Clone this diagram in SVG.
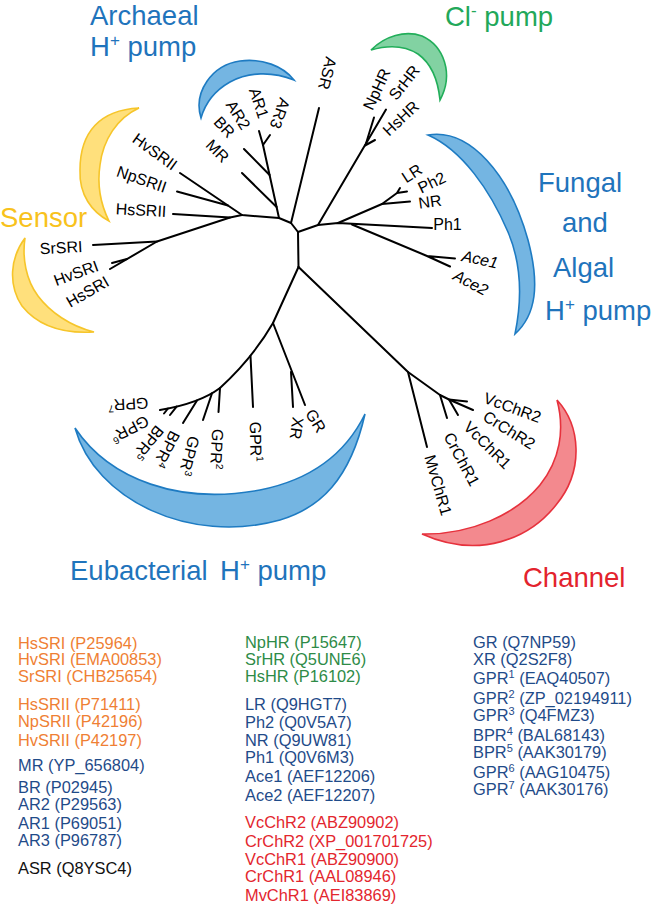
<svg xmlns="http://www.w3.org/2000/svg" width="654" height="909" viewBox="0 0 654 909">
<style>
text{font-family:"Liberation Sans",Arial,Helvetica,sans-serif}
.lb{font-size:16px;fill:#000;text-anchor:middle}
.it{font-style:italic}
.ttl{font-size:27.5px}
.lg{font-size:16.4px}
.blueT{fill:#1F74BC}
.yelT{fill:#F8C21C}
.grnT{fill:#22A85A}
.redT{fill:#E3232D}
.or{fill:#EF7F34}
.gn{fill:#2E8B47}
.db{fill:#1F4B89}
.rd{fill:#E3262E}
.bk{fill:#111}
.cb{fill:#74B5E2;stroke:#1E7BC2;stroke-width:1.6}
.cy{fill:#FFE07C;stroke:#F6C52A;stroke-width:1.6}
.cg{fill:#82D2A2;stroke:#22AE5A;stroke-width:1.6}
.cr{fill:#F3898E;stroke:#E6323D;stroke-width:1.6}
.tree path{fill:none;stroke:#000;stroke-width:2;stroke-linecap:round;stroke-linejoin:round}
</style>

<!-- crescents -->
<g id="crescents">
<path id="cres-archaeal" class="cb" d="M201,118 C193,92 212,65 240,61 C262,58 283,66 294,80 C272,71 248,72 230,82 C214,91 205,104 201,118 Z"/>
<path id="cres-sensor1" class="cy" d="M139,108 C100,110 80,132 80,170 C79,195 92,212 109,221 C101,205 97,185 100,165 C103,140 117,118 139,108 Z"/>
<path id="cres-sensor2" class="cy" d="M25,238 C10,258 8,285 22,306 C38,326 62,334 94,332 C70,326 50,312 38,296 C26,280 22,258 25,238 Z"/>
<path id="cres-cl" class="cg" d="M371,50 C385,36 405,30 422,36 C444,46 454,74 440,100 C438,80 432,64 418,54 C404,45 388,45 371,50 Z"/>
<path id="cres-fungal" class="cb" d="M428,135 C470,128 510,175 528,240 C540,285 536,315 515,334 C522,300 522,265 508,232 C490,190 462,150 428,135 Z"/>
<path id="cres-eubact" class="cb" d="M75,428 C95,500 190,545 280,520 C320,508 350,480 365,414 C345,455 310,480 260,490 C180,505 110,480 75,428 Z"/>
<path id="cres-channel" class="cr" d="M557,400 C580,425 585,470 556,505 C530,538 480,560 422,534 C470,535 515,515 540,485 C560,460 565,430 557,400 Z"/>
</g>

<!-- group titles -->
<g id="titles" class="ttl">
<text class="blueT" x="90" y="25">Archaeal</text>
<text class="blueT" x="90" y="56">H<tspan font-size="17" dy="-10">+</tspan><tspan dy="10"> pump</tspan></text>
<text class="grnT" x="445" y="26">Cl<tspan font-size="17" dy="-10">-</tspan><tspan dy="10"> pump</tspan></text>
<text class="blueT" x="538" y="192">Fungal</text>
<text class="blueT" x="562" y="232">and</text>
<text class="blueT" x="553" y="277">Algal</text>
<text class="blueT" x="545" y="320">H<tspan font-size="17" dy="-10">+</tspan><tspan dy="10"> pump</tspan></text>
<text class="yelT" x="0" y="227">Sensor</text>
<text class="blueT" x="70" y="580">Eubacterial<tspan x="220">H</tspan><tspan font-size="17" dy="-10">+</tspan><tspan dy="10"> pump</tspan></text>
<text class="redT" x="523" y="587">Channel</text>
</g>

<!-- connectors (tree branches) -->
<g id="connectors" class="tree">
<path d="M298,232 L298.5,267"/>
<path d="M298,232 L291,223 L279,218"/>
<path d="M291,223 L319,108"/>
<path d="M279,218 L263,145"/>
<path d="M276.6,207 L242,173"/>
<path d="M269.6,175 L244,149"/>
<path d="M263,145 L259,131 M263,145 L270,135"/>
<path d="M279,218 L242,215 L180,173"/>
<path d="M228,205.5 L177,191.5"/>
<path d="M242,215 L230,217.5 L173,214"/>
<path d="M230,217.5 L157,241.5 L110,269"/>
<path d="M157,241.5 L93,245"/>
<path d="M127,259 L112,263"/>
<path d="M298,232 L318,225 L386,109.5"/>
<path d="M366,143.5 L374,117.5"/>
<path d="M365,145.5 L375,140"/>
<path d="M318,225 L338,223 L432,228"/>
<path d="M338,223 L382,204 L410,201.5"/>
<path d="M382,204 L397,193 L400,188 M397,193 L407,191.5"/>
<path d="M352,224.5 L427,256 L450,266.5 M427,256 L455,258.5"/>
<path d="M298.5,267 L408,372 L427,447"/>
<path d="M408,372 L440,395 L449,399.5 L473,410"/>
<path d="M440,395 L447,418"/>
<path d="M449,399.5 L458,415 M449,399.5 L467,401.5"/>
<path d="M298.5,267 L273,323 L305,405"/>
<path d="M291,372 L293,407"/>
<path d="M273,323 C262,342 244,366 220,388 C208,397 190,405 160,410"/>
<path d="M250.5,356 L253,407"/>
<path d="M220,388 L218.5,412"/>
<path d="M212,393.3 L203,420"/>
<path d="M197,400.5 L183,423"/>
<path d="M176.6,406.6 L170,415 M168,408.5 L164,413.5"/>
</g>

<!-- leaf labels -->
<g id="leaves">
<g id="n-HvSRII"><text class="lb" transform="translate(155,151.7) rotate(36)" y="5.6">HvSRII</text></g>
<g id="n-NpSRII"><text class="lb" transform="translate(141.7,179.2) rotate(19)" y="5.6">NpSRII</text></g>
<g id="n-HsSRII"><text class="lb" transform="translate(141,210) rotate(3)" y="5.6">HsSRII</text></g>
<g id="n-SrSRI"><text class="lb" transform="translate(61,247.5) rotate(-3)" y="5.6">SrSRI</text></g>
<g id="n-HvSRI"><text class="lb" transform="translate(76,273) rotate(-20)" y="5.6">HvSRI</text></g>
<g id="n-HsSRI"><text class="lb" transform="translate(87.5,291.7) rotate(-30)" y="5.6">HsSRI</text></g>
<g id="n-MR"><text class="lb" transform="translate(217.5,150.8) rotate(45)" y="5.6">MR</text></g>
<g id="n-BR"><text class="lb" transform="translate(224.5,127) rotate(47)" y="5.6">BR</text></g>
<g id="n-AR2"><text class="lb" transform="translate(238.3,115) rotate(58)" y="5.6">AR2</text></g>
<g id="n-AR1"><text class="lb" transform="translate(259,103) rotate(72)" y="5.6">AR1</text></g>
<g id="n-AR3"><text class="lb" transform="translate(280,113.3) rotate(110)" y="5.6">AR3</text></g>
<g id="n-ASR"><text class="lb" transform="translate(327.5,73.3) rotate(104)" y="5.6">ASR</text></g>
<g id="n-NpHR"><text class="lb" transform="translate(376.7,89.2) rotate(-65)" y="5.6">NpHR</text></g>
<g id="n-SrHR"><text class="lb" transform="translate(404.2,82.5) rotate(-52)" y="5.6">SrHR</text></g>
<g id="n-HsHR"><text class="lb" transform="translate(400.8,118.3) rotate(-43)" y="5.6">HsHR</text></g>
<g id="n-LR"><text class="lb" transform="translate(411.7,173.3) rotate(-33)" y="5.6">LR</text></g>
<g id="n-Ph2"><text class="lb" transform="translate(431.7,182.5) rotate(-26)" y="5.6">Ph2</text></g>
<g id="n-NR"><text class="lb" transform="translate(430,201.7) rotate(-8)" y="5.6">NR</text></g>
<g id="n-Ph1"><text class="lb" transform="translate(447.5,224.2)" y="5.6">Ph1</text></g>
<g id="n-Ace1"><text class="lb it" transform="translate(480,259.2) rotate(12)" y="5.6">Ace1</text></g>
<g id="n-Ace2"><text class="lb it" transform="translate(470.8,282.5) rotate(28)" y="5.6">Ace2</text></g>
<g id="n-VcChR2"><text class="lb" transform="translate(512.5,407.5) rotate(20)" y="5.6">VcChR2</text></g>
<g id="n-CrChR2"><text class="lb" transform="translate(509.2,430) rotate(32)" y="5.6">CrChR2</text></g>
<g id="n-VcChR1"><text class="lb" transform="translate(487.5,445) rotate(45)" y="5.6">VcChR1</text></g>
<g id="n-CrChR1"><text class="lb" transform="translate(461.7,459.2) rotate(62)" y="5.6">CrChR1</text></g>
<g id="n-MvChR1"><text class="lb" transform="translate(438.3,485) rotate(74)" y="5.6">MvChR1</text></g>
<g id="n-GR"><text class="lb" transform="translate(315.8,420.8) rotate(58)" y="5.6">GR</text></g>
<g id="n-XR"><text class="lb" transform="translate(296.7,428.3) rotate(98)" y="5.6">XR</text></g>
<g id="n-GPR1"><text class="lb" transform="translate(255.8,441.7) rotate(89)" y="5.6">GPR<tspan font-size="10" dy="-6">1</tspan></text></g>
<g id="n-GPR2"><text class="lb" transform="translate(216.7,449.2) rotate(93)" y="5.6">GPR<tspan font-size="10" dy="-6">2</tspan></text></g>
<g id="n-GPR3"><text class="lb" transform="translate(189.2,455.8) rotate(105)" y="5.6">GPR<tspan font-size="10" dy="-6">3</tspan></text></g>
<g id="n-BPR4"><text class="lb" transform="translate(166.7,449.2) rotate(118)" y="5.6">BPR<tspan font-size="10" dy="-6">4</tspan></text></g>
<g id="n-BPR5"><text class="lb" transform="translate(148.3,442.5) rotate(130)" y="5.6">BPR<tspan font-size="10" dy="-6">5</tspan></text></g>
<g id="n-GPR6"><text class="lb" transform="translate(130,429.2) rotate(153)" y="5.6">GPR<tspan font-size="10" dy="-6">6</tspan></text></g>
<g id="n-GPR7"><text class="lb" transform="translate(128.3,404.2) rotate(177)" y="5.6">GPR<tspan font-size="10" dy="-6">7</tspan></text></g>
</g>

<!-- legend -->
<g id="legend" class="lg">
<text class="or" x="18" y="648.5">HsSRI (P25964)</text>
<text class="or" x="18" y="665">HvSRI (EMA00853)</text>
<text class="or" x="18" y="682">SrSRI (CHB25654)</text>
<text class="or" x="18" y="709.5">HsSRII (P71411)</text>
<text class="or" x="18" y="727">NpSRII (P42196)</text>
<text class="or" x="18" y="746">HvSRII (P42197)</text>
<text class="db" x="18" y="771">MR (YP_656804)</text>
<text class="db" x="18" y="792.5">BR (P02945)</text>
<text class="db" x="18" y="809.5">AR2 (P29563)</text>
<text class="db" x="18" y="828.5">AR1 (P69051)</text>
<text class="db" x="18" y="846">AR3 (P96787)</text>
<text class="bk" x="18" y="873.5">ASR (Q8YSC4)</text>

<text class="gn" x="245" y="648">NpHR (P15647)</text>
<text class="gn" x="245" y="665">SrHR (Q5UNE6)</text>
<text class="gn" x="245" y="682">HsHR (P16102)</text>
<text class="db" x="245" y="710">LR (Q9HGT7)</text>
<text class="db" x="245" y="727.5">Ph2 (Q0V5A7)</text>
<text class="db" x="245" y="745.5">NR (Q9UW81)</text>
<text class="db" x="245" y="763">Ph1 (Q0V6M3)</text>
<text class="db" x="245" y="782">Ace1 (AEF12206)</text>
<text class="db" x="245" y="801">Ace2 (AEF12207)</text>
<text class="rd" x="245" y="828">VcChR2 (ABZ90902)</text>
<text class="rd" x="245" y="846.5">CrChR2 (XP_001701725)</text>
<text class="rd" x="245" y="865">VcChR1 (ABZ90900)</text>
<text class="rd" x="245" y="882">CrChR1 (AAL08946)</text>
<text class="rd" x="245" y="900.5">MvChR1 (AEI83869)</text>

<text class="db" x="473" y="648">GR (Q7NP59)</text>
<text class="db" x="473" y="664.5">XR (Q2S2F8)</text>
<text class="db" x="473" y="684">GPR<tspan font-size="11" dy="-6">1</tspan><tspan dy="6"> (EAQ40507)</tspan></text>
<text class="db" x="473" y="704">GPR<tspan font-size="11" dy="-6">2</tspan><tspan dy="6"> (ZP_02194911)</tspan></text>
<text class="db" x="473" y="720.5">GPR<tspan font-size="11" dy="-6">3</tspan><tspan dy="6"> (Q4FMZ3)</tspan></text>
<text class="db" x="473" y="740.5">BPR<tspan font-size="11" dy="-6">4</tspan><tspan dy="6"> (BAL68143)</tspan></text>
<text class="db" x="473" y="757.5">BPR<tspan font-size="11" dy="-6">5</tspan><tspan dy="6"> (AAK30179)</tspan></text>
<text class="db" x="473" y="778">GPR<tspan font-size="11" dy="-6">6</tspan><tspan dy="6"> (AAG10475)</tspan></text>
<text class="db" x="473" y="795">GPR<tspan font-size="11" dy="-6">7</tspan><tspan dy="6"> (AAK30176)</tspan></text>
</g>
</svg>
